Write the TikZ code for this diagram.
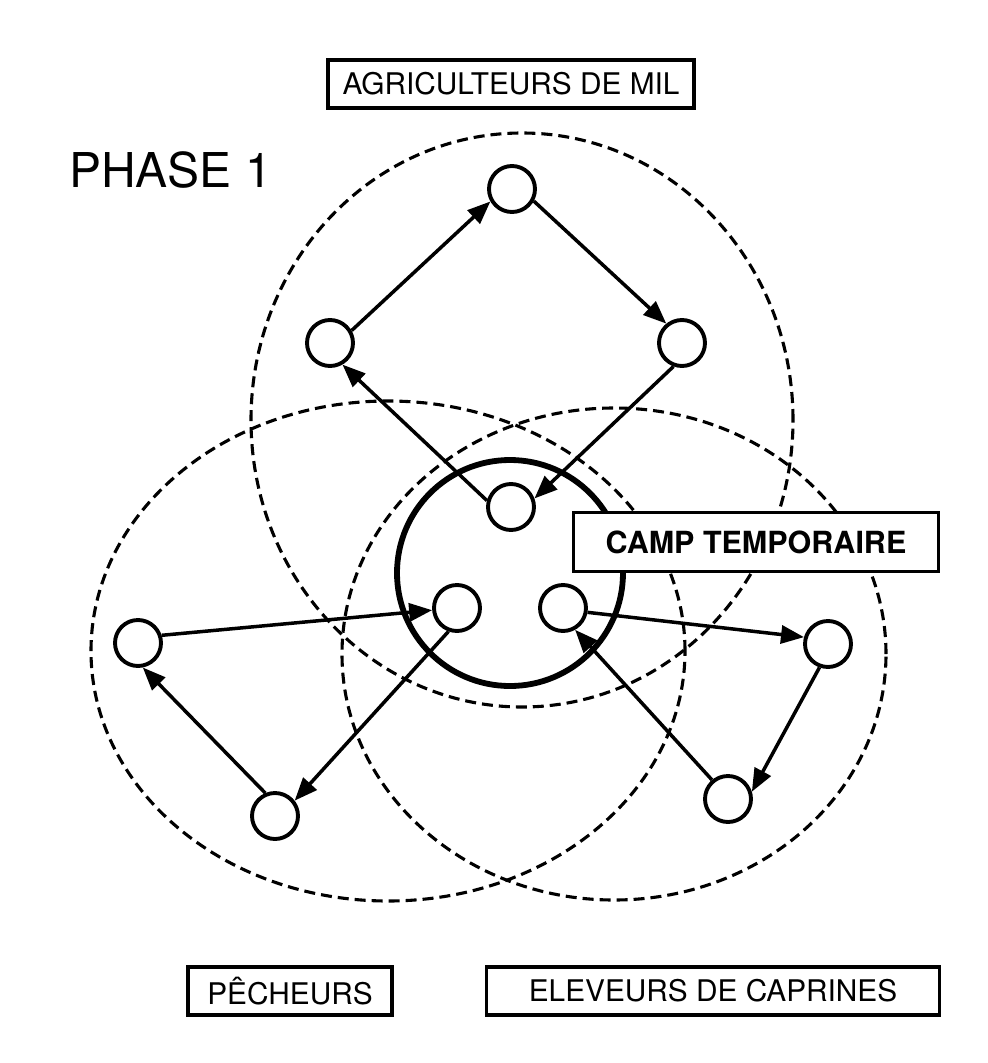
\documentclass[tikz,border=0pt]{standalone}
\usepackage{fontspec}
\setmainfont{TeX Gyre Heros}
\usepackage{tikz}
\usetikzlibrary{arrows.meta}

\begin{document}
\begin{tikzpicture}[x=1pt, y=-1pt,
        spot/.style={circle, draw, fill=white, line width=3.9pt, minimum size=46pt, inner sep=0pt},
        lbl/.style={draw, fill=white, line width=3.4pt, inner sep=0pt, minimum height=48pt, font=\fontsize{29.8}{34}\selectfont},
        arr/.style={line width=3.5pt, -{Triangle[length=23pt, width=18pt]}},
        zone/.style={line width=3.1pt, dash pattern=on 11pt off 6pt}]
    \useasboundingbox (0,0) rectangle (988,1063);

    % Zones
    \draw[zone] (522,420) ellipse [x radius=271pt, y radius=287pt];
    \draw[zone] (388,651) ellipse [x radius=297pt, y radius=250pt];
    \draw[zone] (614,654) ellipse [x radius=272pt, y radius=246pt];
    \draw[line width=5.8pt] (510,573) circle [radius=113pt];

    % Nodes
    \node[spot] (Mt) at (512,189) {};
    \node[spot] (Ml) at (330,343) {};
    \node[spot] (Mr) at (682,343) {};
    \node[spot] (Cc) at (511,507) {};
    \node[spot] (Cl) at (457,608) {};
    \node[spot] (Cr) at (563,608) {};
    \node[spot] (Pl) at (138,643) {};
    \node[spot] (Pb) at (275,816) {};
    \node[spot] (Er) at (828,644) {};
    \node[spot] (Eb) at (728,799) {};

    % Labels
    \node[lbl, minimum width=366pt] (agri) at (511,84) {AGRICULTEURS DE MIL};
    \node[font=\fontsize{48}{54}\selectfont, anchor=base west, inner sep=0pt] (phase) at (69,187) {PHASE 1};
    \node[lbl, minimum width=365pt, minimum height=59pt, font=\bfseries\fontsize{30.5}{36}\selectfont] (camp) at (756,542) {CAMP TEMPORAIRE};
    \node[lbl, minimum width=204pt] (pech) at (290,991) {PÊCHEURS};
    \node[lbl, minimum width=453pt] (elev) at (713,991) {ELEVEURS DE CAPRINES};

    % Lines
    \draw[arr] (Ml.30) -- (Mt.210);
    \draw[arr] (Mt.-29) -- (Mr.129);
    \draw[arr] (Mr.250) -- (Cc.20);
    \draw[arr] (Cc.165) -- (Ml.-60);
    \draw[arr] (Pl.18) -- (Cl.185);
    \draw[arr] (Cl.250) -- (Pb.38);
    \draw[arr] (Pb.113) -- (Pl.-79);
    \draw[arr] (Cr.-10) -- (Er.164);
    \draw[arr] (Er.250) -- (Eb.17);
    \draw[arr] (Eb.130) -- (Cr.-61);
\end{tikzpicture}
\end{document}
